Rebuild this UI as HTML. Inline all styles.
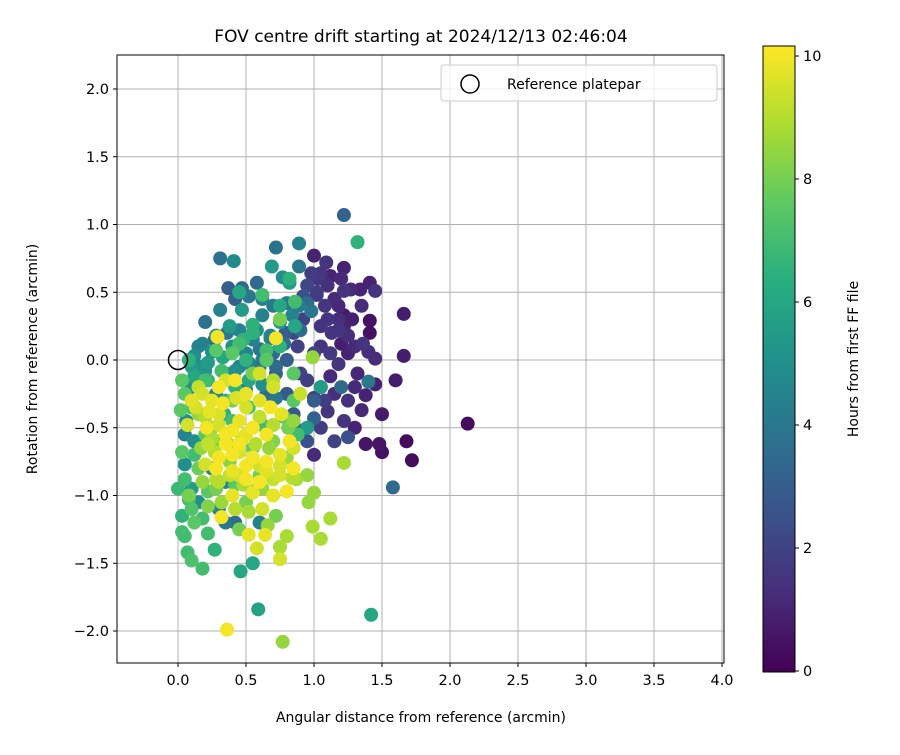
<!DOCTYPE html>
<html><head><meta charset="utf-8"><style>
body{margin:0;background:#fff;font-family:"Liberation Sans","DejaVu Sans",sans-serif}
svg text{font-family:"DejaVu Sans","Liberation Sans",sans-serif}
</style></head><body>
<svg id="c" width="900" height="750" xmlns="http://www.w3.org/2000/svg">
<defs><linearGradient id="vir" x1="0" y1="1" x2="0" y2="0">
<stop offset="0" stop-color="#440154"/><stop offset="0.125" stop-color="#472d7b"/><stop offset="0.25" stop-color="#3b528b"/><stop offset="0.375" stop-color="#2c728e"/><stop offset="0.5" stop-color="#21918c"/><stop offset="0.625" stop-color="#28ae80"/><stop offset="0.75" stop-color="#5ec962"/><stop offset="0.875" stop-color="#addc30"/><stop offset="1" stop-color="#fde725"/></linearGradient>
<clipPath id="pc"><rect x="117" y="55" width="607" height="608"/></clipPath></defs>
<text x="421" y="42" font-size="17" text-anchor="middle">FOV centre drift starting at 2024/12/13 02:46:04</text>
<g id="grid"></g><g id="pts" clip-path="url(#pc)"></g>
<rect x="117" y="55" width="607" height="608" fill="none" stroke="#000" stroke-width="1"/>
<g id="ticks"></g>
<text x="421" y="722" font-size="14" text-anchor="middle">Angular distance from reference (arcmin)</text>
<text transform="translate(37,359) rotate(-90)" font-size="14" text-anchor="middle">Rotation from reference (arcmin)</text>
<g>
<rect x="441" y="65" width="276" height="36" rx="3" fill="#fff" fill-opacity="0.8" stroke="#ccc"/>
<circle cx="470" cy="84" r="9" fill="none" stroke="#000" stroke-width="1.5"/>
<text x="507" y="89" font-size="14">Reference platepar</text></g>
<rect x="763" y="46" width="32" height="626" fill="url(#vir)" stroke="#000" stroke-width="1"/>
<g id="cbt"></g>
<text transform="translate(858,359) rotate(-90)" font-size="14" text-anchor="middle">Hours from first FF file</text>
</svg>
<script>
const xTicks=[0,0.5,1,1.5,2,2.5,3,3.5,4];
const yTicks=[-2,-1.5,-1,-0.5,0,0.5,1,1.5,2];
const cTicks=[0,2,4,6,8,10];
const xs=[2.13,1.68,1.72,1.66,1.66,1.60,1.41,1.41,1.41,1.45,1.22,1.20,1.27,1.34,1.00,1.05,1.09,1.03,0.98,1.12,1.22,1.45,1.40,1.36,1.30,1.22,1.22,1.18,1.10,1.13,1.05,1.20,1.25,1.05,1.00,1.12,1.18,1.32,1.30,1.38,1.45,1.50,1.48,1.50,1.38,1.30,1.35,1.25,1.22,1.15,1.10,1.05,1.00,0.95,1.00,0.95,1.05,1.08,1.12,0.90,0.88,0.92,0.85,1.15,1.25,1.18,1.28,1.35,
1.58,1.22,0.89,0.72,0.31,0.41,0.69,0.89,0.58,0.77,0.82,0.37,0.47,0.52,0.42,0.62,0.70,0.80,0.20,0.31,0.47,0.62,0.75,0.84,0.89,0.95,0.98,0.90,0.79,0.68,0.55,0.45,0.36,0.27,0.15,0.12,0.25,0.40,0.50,0.60,0.70,0.80,0.72,0.60,0.45,0.35,0.20,0.10,0.10,0.28,0.50,0.65,0.80,0.85,0.90,1.00,1.20,1.40,1.05,0.95,1.00,0.05,0.06,0.12,0.05,0.10,0.15,0.30,0.35,0.42,0.60,0.25,0.35,
1.32,0.59,1.42,0.46,0.55,0.03,0.07,0.10,0.18,0.03,0.05,0.08,0.12,0.22,0.18,0.27,0.22,0.05,0.03,0.12,0.02,0.03,0.05,0.10,0.20,0.35,0.40,0.50,0.55,0.65,0.75,0.86,0.75,0.62,0.75,0.82,0.86,0.55,0.45,0.34,0.40,0.52,0.62,0.78,0.85,0.81,0.88,1.22,0.99,1.00,0.95,0.96,0.87,1.05,0.99,1.12,0.80,0.66,0.75,0.77,0.72,0.45,0.50,0.42,0.60,0.55,0.70,0.30,0.20,0.15,0.28,0.38,0.40,0.55,0.65,0.85,0.28,0.08,0.45,0.20,0.15,0.25,0.10,0.00,
0.36,0.29,0.72,0.64,0.52,0.58,0.32,0.75,0.20,0.21,0.07,0.10,0.25,0.30,0.42,0.50,0.60,0.68,0.76,0.82,0.85,0.80,0.70,0.60,0.50,0.40,0.30,0.28,0.35,0.45,0.55,0.65,0.75,0.65,0.55,0.40,0.45,0.70,0.60,0.35,0.18,0.50,0.30,0.84,0.75,0.70,0.15,0.45,0.85,0.90,0.22,0.62,
0.15,0.22,0.33,0.42,0.52,0.62,0.72,0.18,0.28,0.38,0.48,0.58,0.68,0.78,0.12,0.22,0.32,0.42,0.52,0.62,0.72,0.17,0.27,0.37,0.47,0.57,0.67,0.08,0.18,0.28,0.38,0.48,0.58,0.13,0.23,0.33,0.43,0.20,0.30,0.40,0.50,0.60,0.70,0.80,0.25,0.35,0.45,0.55,0.65,0.75,0.85,0.30,0.40,0.50,0.60,0.70,0.22,0.32,0.42,0.52,0.62,1.08,1.15,1.02,1.10,1.18,1.25,0.95,1.02,0.92];
const ys=[-0.47,-0.60,-0.74,0.03,0.34,-0.15,0.20,0.29,0.57,0.51,0.68,0.60,0.52,0.52,0.77,0.64,0.72,0.60,0.64,0.62,0.51,0.01,0.06,0.12,0.10,0.33,0.25,0.30,0.30,0.20,0.25,0.12,0.05,0.10,0.05,0.05,-0.03,-0.10,-0.20,-0.26,-0.18,-0.40,-0.62,-0.68,-0.62,-0.50,-0.37,-0.57,-0.45,-0.60,-0.38,-0.50,-0.70,-0.60,-0.28,-0.15,-0.20,-0.30,-0.12,-0.10,0.10,0.30,0.20,-0.25,-0.30,0.40,0.30,0.40,
-0.94,1.07,0.86,0.83,0.75,0.73,0.69,0.69,0.57,0.61,0.57,0.53,0.53,0.47,0.45,0.45,0.40,0.42,0.28,0.37,0.37,0.33,0.28,0.33,0.40,0.42,0.36,0.22,0.20,0.16,0.15,0.22,0.20,0.15,0.10,0.03,0.06,0.10,0.05,0.08,0.05,0.00,-0.10,-0.05,-0.05,-0.10,-0.08,-0.05,-0.20,-0.25,-0.22,-0.25,-0.25,-0.40,-0.52,-0.43,-0.20,-0.16,-0.20,-0.50,-0.30,-0.55,-0.45,-0.60,-0.77,-0.95,-1.05,-1.10,-1.20,-1.20,-1.20,-0.80,-0.90,
0.87,-1.84,-1.88,-1.56,-1.50,-1.27,-1.42,-1.48,-1.54,-1.15,-1.30,-1.03,-1.20,-1.28,-1.17,-1.40,-0.97,-0.88,-0.68,-0.70,-0.37,-0.15,-0.25,-0.35,-0.40,-0.30,0.05,0.00,0.20,0.07,0.10,0.25,0.40,0.48,0.30,0.60,0.43,0.26,0.50,-0.40,-0.45,-0.35,-0.48,-0.42,-0.30,-0.50,-0.55,-0.76,0.02,-0.98,-0.85,-1.05,-0.88,-1.32,-1.23,-1.17,-1.30,-1.22,-1.38,-2.08,-1.15,-1.25,-1.05,-0.92,-0.85,-0.65,-0.60,-0.60,-0.55,-0.80,-0.95,-0.75,-0.30,-0.10,0.00,-0.10,0.07,0.00,0.12,-0.15,-0.40,-0.50,-1.10,-0.95,
-1.99,0.17,0.16,-1.29,-1.29,-1.39,-1.16,-1.47,-0.77,-0.50,-0.48,-0.30,-0.30,-0.20,-0.15,-0.25,-0.30,-0.35,-0.40,-0.60,-0.80,-0.97,-1.00,-0.90,-0.78,-0.70,-0.72,-0.80,-0.55,-0.45,-0.50,-0.55,-0.70,-0.75,-0.98,-1.00,-0.62,-0.20,-0.10,-0.15,-0.25,-0.35,-0.40,-0.87,-0.85,-0.15,-0.20,-0.85,-0.65,-0.25,-0.62,-1.10,
-0.05,-0.02,0.02,-0.08,-0.02,0.00,-0.05,0.12,0.18,0.25,0.15,0.22,0.18,0.12,-0.12,-0.15,-0.08,-0.20,-0.15,-0.18,-0.28,-0.65,-0.68,-0.62,-0.58,-0.62,-0.65,-1.00,-0.90,-0.88,-0.85,-0.92,-0.95,-0.35,-0.38,-0.32,-0.28,-0.42,-0.48,-0.52,-0.55,-0.42,-0.48,-0.72,-0.58,-0.62,-0.68,-0.72,-0.82,-0.78,-0.45,-0.90,-0.82,-0.88,-0.78,-0.88,-1.08,-1.05,-1.10,-1.12,-0.95,0.40,0.45,0.48,0.55,0.22,0.18,0.55,0.50,0.47];
const hours=[0.3,0.3,0.3,0.8,0.8,0.8,0.5,0.5,1.0,1.5,1.0,1.2,1.2,1.0,1.0,1.5,1.5,1.6,1.8,1.0,1.5,1.3,1.3,1.5,1.2,0.8,1.0,1.3,1.5,1.5,1.5,0.9,1.0,1.5,2.0,1.7,1.5,1.1,1.2,1.0,1.0,0.7,0.6,0.5,0.6,1.0,1.1,2.5,1.5,2.0,1.5,1.8,1.2,2.5,1.6,1.8,1.7,1.8,1.2,2.0,2.0,2.0,2.2,1.3,1.4,1.1,0.9,1.3,
3.5,3.2,4.5,3.8,3.8,4.8,5.5,4.0,3.5,5.0,5.5,3.0,3.5,4.0,3.0,4.5,4.0,4.0,3.8,4.5,5.5,4.5,5.5,4.5,4.2,3.5,4.0,3.5,3.0,4.0,4.5,4.5,4.0,3.5,4.5,5.0,5.0,5.0,4.5,4.0,3.5,3.0,3.0,4.0,4.5,5.0,5.2,5.5,5.0,4.5,4.0,3.5,2.8,2.8,3.0,3.2,3.5,4.0,5.5,5.5,3.0,4.5,5.0,5.0,5.0,5.5,5.0,4.5,4.0,3.5,4.5,4.5,4.5,
6.5,5.8,6.0,6.0,6.0,7.0,7.0,7.2,7.0,6.5,7.0,7.0,7.5,7.0,7.0,6.5,7.5,7.0,7.5,7.0,7.5,7.5,7.5,7.0,7.0,6.5,7.5,6.5,6.5,7.0,6.5,6.0,6.0,7.0,8.0,6.5,7.0,6.5,6.0,6.5,7.0,7.0,7.0,7.5,7.5,8.0,7.0,8.8,8.5,8.5,8.5,8.5,8.8,8.8,8.8,8.8,8.8,8.5,8.8,8.5,8.0,8.0,8.0,7.5,8.0,7.8,8.2,8.0,7.5,7.8,8.0,8.3,8.0,8.0,7.5,7.5,7.5,6.5,7.0,7.0,8.5,8.5,7.3,6.8,
10,10,10,9.8,9.8,9.5,10,9.5,9.5,10,9.5,9.7,9.8,10,10,9.8,9.7,10,9.8,10,10,10,9.8,10,10,10,10,10,10,9.8,10,10,9.8,10,9.8,9.8,10,9.5,9.5,9.5,9.5,9.5,9.6,9.0,9.5,9.0,9.2,9.5,9.5,9.3,9.2,9.5,
5.0,5.5,6.0,5.0,4.5,4.0,3.5,4.5,5.0,5.5,6.5,5.0,4.5,3.5,6.0,6.5,7.0,6.5,6.0,5.0,4.0,8.5,9.0,8.8,9.2,9.0,8.5,8.0,8.5,9.0,9.2,8.8,8.5,9.5,9.8,10,9.6,9.0,9.5,10,9.8,9.2,9.0,8.6,8.8,10,9.5,10,9.7,9.5,8.5,9.0,9.8,10,9.5,9.3,8.2,8.6,9.0,8.8,8.5,1.6,1.2,1.8,1.4,1.5,1.3,2.2,1.8,2.5];
const NS='http://www.w3.org/2000/svg';
const X=v=>178+v*136, Y=v=>360-v*135.5, C=h=>671-h*61.5;
const vir=[[68,1,84],[71,45,123],[59,82,139],[44,114,142],[33,145,140],[40,174,128],[94,201,98],[173,220,48],[253,231,37]];
function col(h){let t=Math.max(0,Math.min(1,h/10.15))*8,i=Math.min(7,Math.floor(t)),f=t-i;const a=vir[i],b=vir[i+1];return 'rgb('+a.map((v,k)=>Math.round(v+(b[k]-v)*f)).join(',')+')';}
function mk(t,at,p){const e=document.createElementNS(NS,t);for(const k in at)e.setAttribute(k,at[k]);p.appendChild(e);return e;}
const g=document.getElementById('grid'),tk=document.getElementById('ticks');
xTicks.forEach(v=>{const l=mk('line',{x1:X(v),x2:X(v),y1:55,y2:663,stroke:'#b0b0b0','stroke-width':1},g);


mk('line',{x1:X(v),x2:X(v),y1:663,y2:667,stroke:'#000'},tk);
const t=mk('text',{x:X(v),y:685,'font-size':14.5,'text-anchor':'middle'},tk);t.textContent=v.toFixed(1);

});
yTicks.forEach(v=>{const l=mk('line',{x1:117,x2:724,y1:Y(v),y2:Y(v),stroke:'#b0b0b0','stroke-width':1},g);


mk('line',{x1:113,x2:117,y1:Y(v),y2:Y(v),stroke:'#000'},tk);
const t=mk('text',{x:109,y:Y(v)+5,'font-size':14.5,'text-anchor':'end'},tk);t.textContent=(v<0?'\u2212':'')+Math.abs(v).toFixed(1);

});
const cb=document.getElementById('cbt');
cTicks.forEach(v=>{mk('line',{x1:795,x2:799,y1:C(v),y2:C(v),stroke:'#000'},cb);
const t=mk('text',{x:803,y:C(v)+5,'font-size':14.5},cb);t.textContent=v;

});
const pg=document.getElementById('pts');
const idx=hours.map((h,i)=>i).sort((a,b)=>hours[a]-hours[b]);
idx.forEach(i=>{const c=mk('circle',{cx:X(xs[i]),cy:Y(ys[i]),r:7,fill:col(hours[i])},pg);

});
const r=mk('circle',{cx:X(0),cy:Y(0),r:9.5,fill:'none',stroke:'#000','stroke-width':1.5},pg);


</script>
</body></html>
